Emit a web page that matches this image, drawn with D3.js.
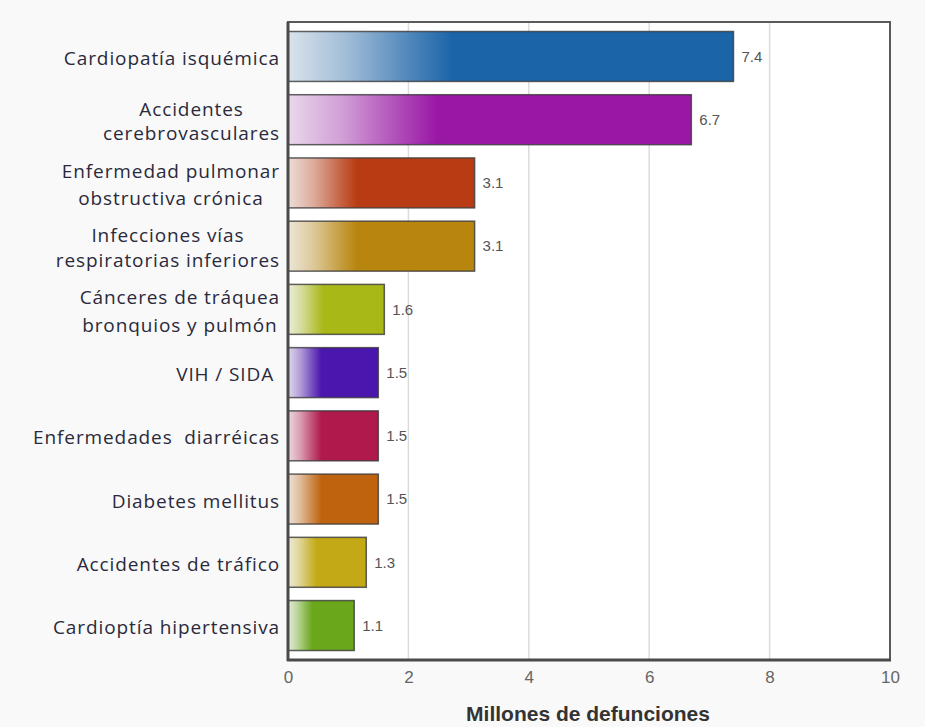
<!DOCTYPE html>
<html>
<head>
<meta charset="utf-8">
<script src="https://cdn.jsdelivr.net/npm/d3@7"></script>
<style>
  html, body { margin: 0; padding: 0; background: #f9f9f9; }
  svg { display: block; }
</style>
</head>
<body>
<svg id="chart" width="925" height="727"></svg>
<script>
// Principales causas de muerte (millones de defunciones)
const causes = [
  ["Cardiopatía isquémica"],
  ["Accidentes", "cerebrovasculares"],
  ["Enfermedad pulmonar", "obstructiva crónica"],
  ["Infecciones vías", "respiratorias inferiores"],
  ["Cánceres de tráquea", "bronquios y pulmón"],
  ["VIH / SIDA "],
  ["Enfermedades  diarréicas"],
  ["Diabetes mellitus"],
  ["Accidentes de tráfico"],
  ["Cardioptía hipertensiva"]
];
const deaths = [7.4, 6.7, 3.1, 3.1, 1.6, 1.5, 1.5, 1.5, 1.3, 1.1];
const barColors = ["#1b64a8", "#9a17a6", "#b93b13", "#b8860f", "#a8b817",
                   "#4b16ae", "#b0194c", "#c0630f", "#c3a915", "#6aa71b"];
const xTicks = [0, 2, 4, 6, 8, 10];
const xTitle = "Millones de defunciones";

// line spacing used by each wrapped category label
const labelLeading = [0, 24, 27, 25, 28, 0, 0, 0, 0, 0];

const svg = d3.select("#chart");
const plotL = 288, plotR = 890, plotT = 22, plotB = 660;

const x = d3.scaleLinear().domain([0, 10]).range([plotL, plotR]);
const y = d3.scaleBand().domain(d3.range(deaths.length))
  .range([plotT, plotB]).paddingInner(0.21).paddingOuter(0.15);

// plot background
svg.append("rect").attr("x", plotL).attr("y", plotT)
  .attr("width", plotR - plotL).attr("height", plotB - plotT)
  .attr("fill", "#ffffff");

// vertical grid
svg.append("g").selectAll("line").data(xTicks.filter(t => t > 0 && t < 10)).join("line")
  .attr("x1", d => x(d)).attr("x2", d => x(d))
  .attr("y1", plotT).attr("y2", plotB)
  .attr("stroke", "#dcdcdc").attr("stroke-width", 1.5);

// gradients: pale at the base, full colour from about a third of the bar
const defs = svg.append("defs");
barColors.forEach((c, i) => {
  const g = defs.append("linearGradient").attr("id", "grad" + i)
    .attr("x1", "0%").attr("x2", "100%").attr("y1", "0%").attr("y2", "0%");
  const pale = d3.interpolateRgb("#f4f4f4", c);
  g.append("stop").attr("offset", "0%").attr("stop-color", pale(0.12));
  g.append("stop").attr("offset", "14%").attr("stop-color", pale(0.4));
  g.append("stop").attr("offset", "28%").attr("stop-color", pale(0.78));
  g.append("stop").attr("offset", "37%").attr("stop-color", c);
  g.append("stop").attr("offset", "100%").attr("stop-color", c);
});

// bars
svg.append("g").selectAll("rect").data(deaths).join("rect")
  .attr("x", x(0))
  .attr("y", (d, i) => y(i))
  .attr("width", d => x(d) - x(0))
  .attr("height", y.bandwidth())
  .attr("fill", (d, i) => `url(#grad${i})`)
  .attr("stroke", "#3a3a3a").attr("stroke-opacity", 0.8).attr("stroke-width", 1.5);

// value labels
svg.append("g").selectAll("text").data(deaths).join("text")
  .attr("x", d => x(d) + 8)
  .attr("y", (d, i) => y(i) + y.bandwidth() / 2)
  .attr("dy", "0.35em")
  .attr("font-family", "Liberation Sans, Arial, sans-serif")
  .attr("font-size", 15)
  .attr("fill", "#555")
  .text(d => d.toFixed(1));

// plot frame
svg.append("rect").attr("x", plotL).attr("y", plotT)
  .attr("width", plotR - plotL).attr("height", plotB - plotT)
  .attr("fill", "none").attr("stroke", "#5a5a5a").attr("stroke-width", 2);
svg.append("line").attr("x1", plotL).attr("x2", plotL).attr("y1", plotT).attr("y2", plotB + 1)
  .attr("stroke", "#4a4a4a").attr("stroke-width", 3);
svg.append("line").attr("x1", plotL - 1).attr("x2", plotR + 1).attr("y1", plotB).attr("y2", plotB)
  .attr("stroke", "#4a4a4a").attr("stroke-width", 3);

// x axis
const xAxis = svg.append("g").attr("transform", `translate(0,${plotB})`)
  .call(d3.axisBottom(x).tickValues(xTicks).tickSize(0).tickPadding(11).tickFormat(d3.format("d")));
xAxis.select(".domain").remove();
xAxis.selectAll("text")
  .attr("font-family", "Liberation Sans, Arial, sans-serif")
  .attr("font-size", 17).attr("fill", "#666");

svg.append("text")
  .attr("x", 588).attr("y", 721)
  .attr("text-anchor", "middle")
  .attr("font-family", "Liberation Sans, Arial, sans-serif")
  .attr("font-size", 21).attr("font-weight", "bold").attr("fill", "#333")
  .text(xTitle);

// category labels: each block centred, block right edge near the axis
const labels = svg.append("g")
  .attr("font-family", "Open Sans, DejaVu Sans, sans-serif")
  .attr("font-size", 19).attr("letter-spacing", "0.9px").attr("fill", "#2a2a3c");
causes.forEach((lines, i) => {
  const cy = y(i) + y.bandwidth() / 2 + 2;
  const lead = labelLeading[i];
  const t = labels.append("text").attr("text-anchor", "middle");
  lines.forEach((ln, j) => {
    t.append("tspan").attr("xml:space", "preserve")
      .attr("x", 0)
      .attr("y", cy + (j - (lines.length - 1) / 2) * lead)
      .attr("dy", "0.35em")
      .text(ln);
  });
  const w = t.node().getBBox().width;
  t.attr("transform", `translate(${280 - w / 2},0)`);
});
</script>
</body>
</html>
